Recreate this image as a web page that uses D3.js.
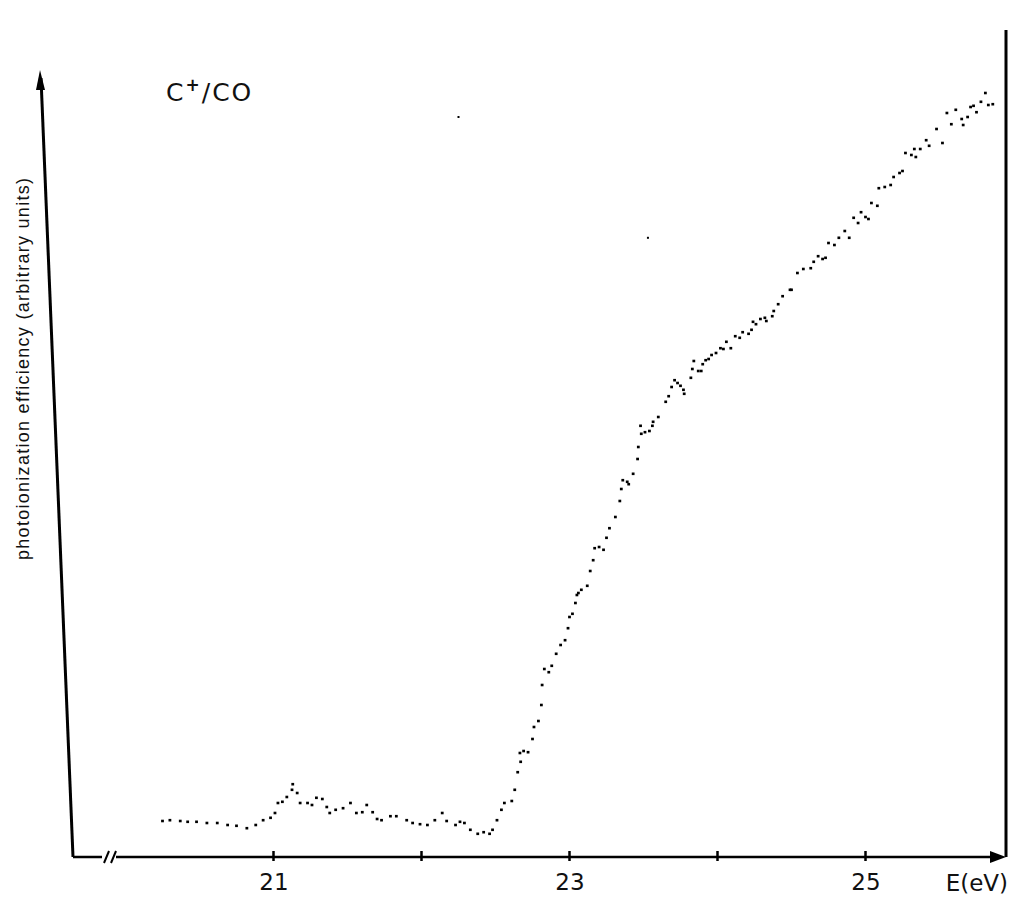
<!DOCTYPE html>
<html>
<head>
<meta charset="utf-8">
<script src="https://cdn.jsdelivr.net/npm/d3@7"></script>
<style>
body { margin: 0; background: #fff; }
text { font-family: "DejaVu Sans", "Liberation Sans", Arial, sans-serif; fill: #111; }
</style>
</head>
<body>
<div id="chart"></div>
<script>
// photon energy (eV) and ion yield (arbitrary units)
var energy = [20.25, 20.30, 20.37, 20.42, 20.48, 20.55, 20.62, 20.69, 20.75, 20.82,
  20.88, 20.93, 20.98, 21.01, 21.03, 21.06, 21.09, 21.125, 21.13, 21.16,
  21.18, 21.23, 21.26, 21.29, 21.33, 21.36, 21.38, 21.42, 21.47, 21.52,
  21.56, 21.60, 21.63, 21.67, 21.70, 21.73, 21.79, 21.83, 21.90, 21.94,
  21.99, 22.04, 22.09, 22.14, 22.17, 22.23, 22.26, 22.29, 22.33, 22.38,
  22.42, 22.46, 22.48, 22.51, 22.54, 22.56, 22.61, 22.63, 22.65, 22.665,
  22.67, 22.69, 22.72, 22.75, 22.76, 22.79, 22.81, 22.815, 22.83, 22.86,
  22.88, 22.91, 22.94, 22.97, 22.99, 23.00, 23.02, 23.04, 23.05, 23.06,
  23.08, 23.12, 23.14, 23.16, 23.17, 23.20, 23.23, 23.25, 23.27, 23.31,
  23.34, 23.35, 23.36, 23.39, 23.40, 23.43, 23.46, 23.465, 23.48, 23.485,
  23.51, 23.54, 23.56, 23.565, 23.60, 23.65, 23.67, 23.69, 23.71, 23.73,
  23.75, 23.77, 23.775, 23.82, 23.83, 23.84, 23.87, 23.89, 23.90, 23.92,
  23.94, 23.96, 23.99, 24.02, 24.04, 24.06, 24.09, 24.12, 24.15, 24.17,
  24.21, 24.23, 24.24, 24.26, 24.29, 24.32, 24.33, 24.37, 24.38, 24.41,
  24.44, 24.49, 24.50, 24.54, 24.58, 24.63, 24.65, 24.68, 24.71, 24.73,
  24.75, 24.79, 24.82, 24.86, 24.89, 24.92, 24.95, 24.97, 25.00, 25.02,
  25.04, 25.08, 25.09, 25.13, 25.17, 25.19, 25.23, 25.25, 25.27, 25.31,
  25.34, 25.33, 25.37, 25.41, 25.43, 25.48, 25.52, 25.55, 25.58, 25.61,
  25.65, 25.66, 25.69, 25.71, 25.73, 25.75, 25.78, 25.81, 25.83, 25.86];
var yieldC = [4.5, 4.6, 4.5, 4.4, 4.4, 4.25, 4.25, 4.0, 3.9, 3.6,
  4.0, 4.6, 4.9, 5.5, 6.75, 6.9, 7.5, 8.4, 9.1, 8.0,
  6.75, 6.75, 6.5, 7.4, 7.25, 6.25, 5.5, 5.9, 6.1, 6.75,
  5.5, 5.6, 6.5, 5.6, 4.75, 4.6, 5.1, 5.1, 4.6, 4.25,
  4.1, 4.0, 4.6, 5.5, 4.5, 4.0, 4.4, 4.25, 3.4, 2.9,
  3.1, 2.9, 3.4, 4.6, 5.9, 6.75, 7.0, 8.4, 10.6, 13.0,
  11.9, 13.25, 13.1, 14.75, 16.25, 17.0, 19.0, 21.5, 23.5, 23.1,
  23.9, 25.4, 26.5, 27.1, 28.6, 30.0, 30.4, 31.75, 32.75, 33.0,
  33.4, 33.9, 35.75, 37.1, 38.6, 38.75, 38.4, 39.9, 41.1, 42.5,
  44.5, 46.0, 47.1, 46.9, 46.6, 47.9, 49.75, 51.25, 53.9, 52.9,
  53.1, 53.25, 53.9, 54.4, 55.0, 56.9, 57.6, 58.75, 59.6, 59.25,
  58.9, 58.4, 57.9, 59.9, 61.0, 62.0, 60.75, 60.75, 61.6, 62.1,
  62.25, 62.75, 63.0, 63.6, 63.5, 64.4, 63.6, 65.1, 64.9, 65.6,
  65.4, 65.9, 66.9, 66.6, 67.25, 67.4, 67.0, 67.6, 68.25, 69.1,
  70.1, 70.9, 70.9, 73.0, 73.5, 73.6, 74.4, 75.1, 74.75, 74.9,
  76.75, 76.5, 77.4, 78.25, 77.4, 79.9, 79.25, 80.6, 80.0, 79.75,
  81.75, 81.4, 83.6, 83.75, 84.0, 85.0, 85.5, 85.75, 88.0, 87.75,
  87.5, 88.5, 88.5, 89.6, 88.9, 91.0, 89.25, 93.0, 91.6, 93.4,
  92.25, 91.5, 92.5, 93.75, 93.9, 93.1, 94.4, 95.5, 94.0, 94.1];
// two specks of dirt on the original scan
var speckE = [22.25, 23.53];
var speckY = [92.5, 77.4];
var xTicks = [21, 22, 23, 24, 25];
var xTickLabels = ["21", "", "23", "", "25"];

var W = 1012, H = 901;
var axisY = 857;
var svg = d3.select("#chart").append("svg")
  .attr("width", W)
  .attr("height", H);

var x = d3.scaleLinear().domain([21, 25]).range([273.5, 865.5]);
var y = d3.scaleLinear().domain([0, 100]).range([axisY, 57]);

var points = energy.map(function(e, i) { return {e: e, v: yieldC[i]}; });
var specks = speckE.map(function(e, i) { return {e: e, v: speckY[i]}; });

// frame: slanted left axis (as in the scan), right border
svg.append("line")
  .attr("x1", 73).attr("y1", axisY)
  .attr("x2", 41).attr("y2", 78)
  .style("stroke", "#000").style("stroke-width", 3);
svg.append("path")
  .attr("d", "M36,90 L40,70 L45,90 Z")
  .style("fill", "#000");
svg.append("line")
  .attr("x1", 1006).attr("y1", 30)
  .attr("x2", 1006).attr("y2", axisY)
  .style("stroke", "#000").style("stroke-width", 3);

// x axis
var xAxis = d3.axisBottom(x)
  .tickValues(xTicks)
  .tickSize(0)
  .tickPadding(17)
  .tickFormat(function(d, i) { return xTickLabels[i]; });
var gx = svg.append("g")
  .attr("transform", "translate(0," + axisY + ")")
  .call(xAxis);
gx.select(".domain").remove();
gx.selectAll("text")
  .style("font-size", "23px")
  .style("font-family", "DejaVu Sans, sans-serif")
  .attr("fill", "#111");

svg.append("line")
  .attr("x1", 73).attr("y1", axisY)
  .attr("x2", 998).attr("y2", axisY)
  .style("stroke", "#000").style("stroke-width", 2.5);
svg.append("path")
  .attr("d", "M990," + (axisY - 6) + " L1006," + axisY + " L990," + (axisY + 6) + " Z")
  .style("fill", "#000");

// tick marks through the axis
svg.append("g").selectAll("line")
  .data(xTicks)
  .enter().append("line")
  .attr("x1", function(d) { return x(d); })
  .attr("x2", function(d) { return x(d); })
  .attr("y1", axisY - 6)
  .attr("y2", axisY + 4)
  .style("stroke", "#000").style("stroke-width", 2.5);

// axis break
svg.append("rect")
  .attr("x", 102).attr("y", axisY - 3).attr("width", 14).attr("height", 6)
  .style("fill", "#fff");
[104, 111].forEach(function(bx) {
  svg.append("line")
    .attr("x1", bx).attr("y1", axisY + 6)
    .attr("x2", bx + 5).attr("y2", axisY - 6)
    .style("stroke", "#000").style("stroke-width", 2);
});

// data points
svg.append("g").selectAll("rect")
  .data(points)
  .enter().append("rect")
  .attr("x", function(d) { return x(d.e) - 1.4; })
  .attr("y", function(d) { return y(d.v) - 1.3; })
  .attr("width", 2.8)
  .attr("height", 2.6)
  .style("fill", "#000");

svg.append("g").selectAll("rect")
  .data(specks)
  .enter().append("rect")
  .attr("x", function(d) { return x(d.e) - 1; })
  .attr("y", function(d) { return y(d.v) - 1; })
  .attr("width", 2)
  .attr("height", 2)
  .style("fill", "#000");

// labels
var title = svg.append("text")
  .attr("x", 166).attr("y", 101)
  .style("font-size", "25px")
  .style("letter-spacing", "2px");
title.append("tspan").text("C");
title.append("tspan").attr("dy", -10).style("font-size", "17px").style("font-weight", "bold").text("+");
title.append("tspan").attr("dy", 10).text("/CO");

svg.append("text")
  .attr("transform", "translate(29,369) rotate(-90)")
  .attr("text-anchor", "middle")
  .attr("textLength", 382)
  .attr("lengthAdjust", "spacing")
  .style("font-size", "18px")
  .style("font-family", "Liberation Sans, Arial, sans-serif")
  .text("photoionization efficiency (arbitrary units)");

svg.append("text")
  .attr("x", 1008).attr("y", 891)
  .attr("text-anchor", "end")
  .style("font-size", "23px")
  .text("E(eV)");
</script>
</body>
</html>
